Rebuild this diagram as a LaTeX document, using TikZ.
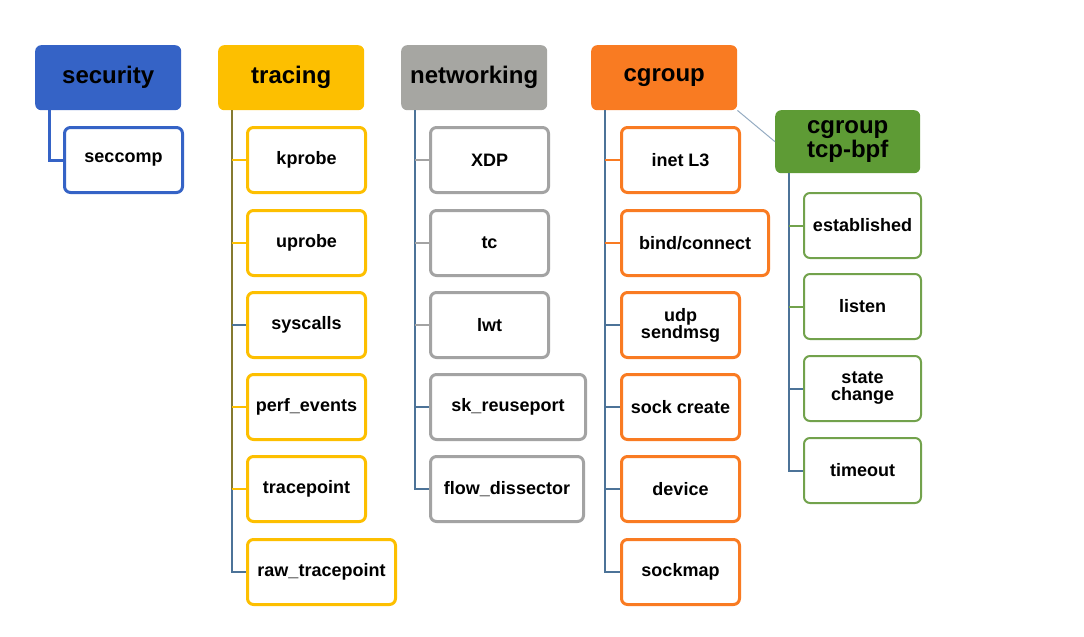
\documentclass[tikz,border=0pt]{standalone}
\usepackage{fontspec}
\setmainfont{Liberation Sans}
\usetikzlibrary{calc}
\usetikzlibrary{positioning}

\definecolor{secblue}{HTML}{3563C6}
\definecolor{traceyellow}{HTML}{FDBF00}
\definecolor{netgray}{HTML}{A6A6A2}
\definecolor{leafgray}{HTML}{A3A3A3}
\definecolor{cgorange}{HTML}{F97B22}
\definecolor{tcpgreen}{HTML}{5E9B35}
\definecolor{leafgreen}{HTML}{72A24C}
\definecolor{trunkblue}{HTML}{4C7398}
\definecolor{olive}{HTML}{857A30}

\begin{document}
\begin{tikzpicture}[x=1pt,y=-1pt,
	  head node/.style={rectangle, rounded corners=6pt, anchor=north west, inner sep=0pt,
	    minimum width=146pt, minimum height=65pt, align=center, text=black,
	    font=\fontsize{24}{20}\selectfont\bfseries},
	  leaf node/.style={rectangle, rounded corners=6pt, draw, line width=3pt, fill=white,
	    anchor=north west, inner sep=0pt, minimum width=118pt, minimum height=65pt,
	    align=center, text=black, font=\fontsize{18}{17}\selectfont\bfseries},
	  trunk/.style={draw=trunkblue, line width=2pt},
	  stub/.style={line width=2pt}]

	  \useasboundingbox (0,0) rectangle (1084,637);

	  % headers
	  \node[head node, fill=secblue] (security) at (35,45) {security};
	  \node[head node, fill=traceyellow] (tracing) at (218,45) {tracing};
	  \node[head node, fill=netgray] (networking) at (401,45) {networking};
	  \node[head node, fill=cgorange] (cgroup) at (591,45) {cgroup};
	  \node[head node, fill=tcpgreen, minimum width=145pt, minimum height=63pt] (tcpbpf) at (775,110) {cgroup\\tcp-bpf};

	  % security
	  \node[leaf node, draw=secblue] (seccomp) at (63,126) {seccomp};

	  % tracing
	  \node[leaf node, draw=traceyellow] (kprobe) at (246,126) {kprobe};
	  \node[leaf node, draw=traceyellow] (uprobe) at (246,209) {uprobe};
	  \node[leaf node, draw=traceyellow] (syscalls) at (246,291) {syscalls};
	  \node[leaf node, draw=traceyellow] (perf) at (246,373) {perf\_events};
	  \node[leaf node, draw=traceyellow] (tracepoint) at (246,455) {tracepoint};
	  \node[leaf node, draw=traceyellow, minimum width=148pt] (rawtp) at (246,538) {raw\_tracepoint};

	  % networking
	  \node[leaf node, draw=leafgray] (xdp) at (429,126) {XDP};
	  \node[leaf node, draw=leafgray] (tc) at (429,209) {tc};
	  \node[leaf node, draw=leafgray] (lwt) at (429,291) {lwt};
	  \node[leaf node, draw=leafgray, minimum width=155pt] (reuse) at (429,373) {sk\_reuseport};
	  \node[leaf node, draw=leafgray, minimum width=153pt] (flow) at (429,455) {flow\_dissector};

	  % cgroup
	  \node[leaf node, draw=cgorange] (inet) at (620,126) {inet L3};
	  \node[leaf node, draw=cgorange, minimum width=147pt] (bind) at (620,209) {bind/connect};
	  \node[leaf node, draw=cgorange] (udp) at (620,291) {udp\\sendmsg};
	  \node[leaf node, draw=cgorange] (sock) at (620,373) {sock create};
	  \node[leaf node, draw=cgorange] (device) at (620,455) {device};
	  \node[leaf node, draw=cgorange] (sockmap) at (620,538) {sockmap};

	  % cgroup tcp-bpf
	  \node[leaf node, draw=leafgreen, line width=2pt, minimum width=117pt] (estab) at (803,192) {established};
	  \node[leaf node, draw=leafgreen, line width=2pt, minimum width=117pt] (listen) at (803,273) {listen};
	  \node[leaf node, draw=leafgreen, line width=2pt, minimum width=117pt] (state) at (803,355) {state\\change};
	  \node[leaf node, draw=leafgreen, line width=2pt, minimum width=117pt] (timeout) at (803,437) {timeout};

	  % trunks
	  \coordinate (secT) at ([xshift=14pt]security.south west);
	  \coordinate (trT) at ([xshift=14pt]tracing.south west);
	  \coordinate (netT) at ([xshift=14pt]networking.south west);
	  \coordinate (cgT) at ([xshift=14pt]cgroup.south west);
	  \coordinate (tcpT) at ([xshift=14pt]tcpbpf.south west);

	  \draw[draw=secblue, line width=3pt] (secT) |- (seccomp.west);
	  \draw[draw=olive, line width=2pt] (trT) -- (trT |- tracepoint.west);
	  \draw[trunk] (trT |- tracepoint.west) |- (rawtp.west);
	  \draw[trunk] (netT) |- (flow.west);
	  \draw[trunk] (cgT) |- (sockmap.west);
	  \draw[trunk] (tcpT) |- (timeout.west);
	  \draw[draw=trunkblue!60, line width=1pt] (cgroup.south east) -- (tcpbpf.west);

	  % stubs
	  \path[stub]
	    	(trT |- kprobe.west) 	edge[traceyellow] (kprobe.west)
	    	(trT |- uprobe.west) 	edge[traceyellow] (uprobe.west)
	    	(trT |- syscalls.west) 	edge[trunkblue] (syscalls.west)
	    	(trT |- perf.west) 	edge[traceyellow] (perf.west)
	    	(trT |- tracepoint.west) 	edge[traceyellow] (tracepoint.west)
	    	(netT |- xdp.west) 	edge[leafgray] (xdp.west)
	    	(netT |- tc.west) 	edge[leafgray] (tc.west)
	    	(netT |- lwt.west) 	edge[leafgray] (lwt.west)
	    	(netT |- reuse.west) 	edge[trunkblue] (reuse.west)
	    	(cgT |- inet.west) 	edge[cgorange] (inet.west)
	    	(cgT |- bind.west) 	edge[cgorange] (bind.west)
	    	(cgT |- udp.west) 	edge[trunkblue] (udp.west)
	    	(cgT |- sock.west) 	edge[trunkblue] (sock.west)
	    	(cgT |- device.west) 	edge[trunkblue] (device.west)
	    	(tcpT |- estab.west) 	edge[leafgreen] (estab.west)
	    	(tcpT |- listen.west) 	edge[leafgreen] (listen.west)
	    	(tcpT |- state.west) 	edge[trunkblue] (state.west);
	\end{tikzpicture}
\end{document}
